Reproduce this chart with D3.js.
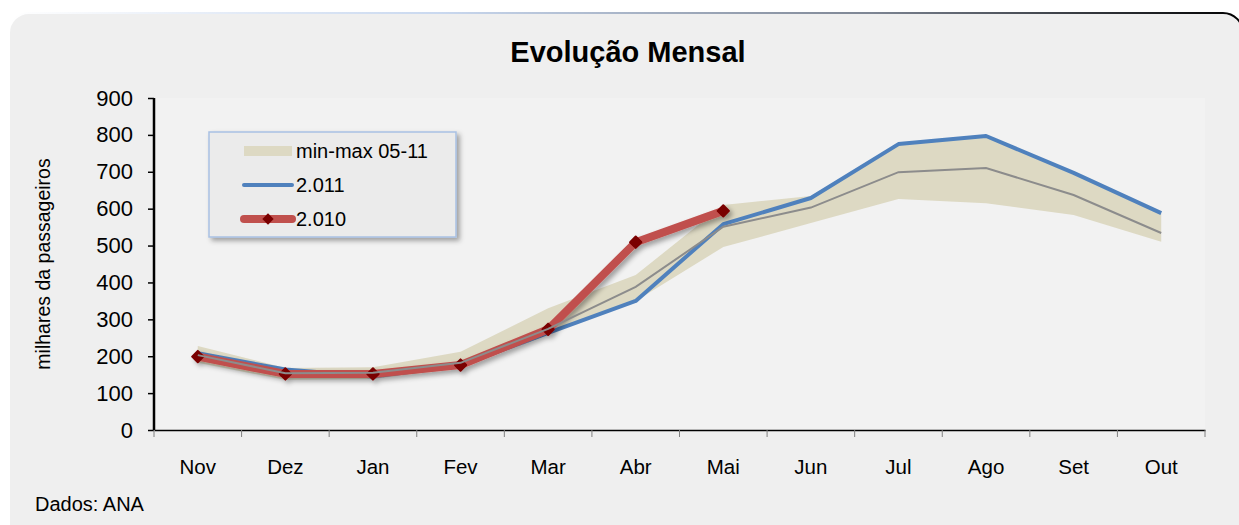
<!DOCTYPE html>
<html>
<head>
<meta charset="utf-8">
<script src="https://cdn.jsdelivr.net/npm/d3@7"></script>
<style>
  body { margin: 0; background: #fff; }
  svg { display: block; font-family: "Liberation Sans", Arial, sans-serif; }
</style>
</head>
<body>
<svg id="chart"></svg>
<script>
var WIDTH = 1239,
	HEIGHT = 525,
	MARGIN = {top: 98, bottom: 95, left: 154, right: 34};

// Data
var months = ["Nov", "Dez", "Jan", "Fev", "Mar", "Abr", "Mai", "Jun", "Jul", "Ago", "Set", "Out"];
var bandMin = [182, 136, 138, 168, 263, 350, 496, 561, 626, 615, 583, 510];
var bandMax = [228, 168, 170, 212, 330, 420, 610, 634, 775, 797, 697, 588];
var avg = [203, 154, 155, 182, 274, 388, 551, 603, 699, 710, 637, 534];
var s2011 = [208, 164, 145, 175, 263, 350, 558, 629, 775, 797, 697, 588];
var s2010 = [199, 152, 152, 176, 273, 509, 594];
var yTicks = [0, 100, 200, 300, 400, 500, 600, 700, 800, 900];
var legendItems = ["min-max 05-11", "2.011", "2.010"];

var C_BAND = "#ddd9c3", C_BLUE = "#4f81bd", C_RED = "#c0504d", C_GREY = "#8c8c8c", C_MARK = "#7a0000";

var svg = d3.select("#chart")
	.attr("width", WIDTH)
	.attr("height", HEIGHT);

var defs = svg.append("defs");

// Frame gradient: light blue on the left, black on the right
var grad = defs.append("linearGradient").attr("id", "frameGrad")
	.attr("x1", "0%").attr("x2", "100%").attr("y1", "0%").attr("y2", "0%");
grad.append("stop").attr("offset", "0%").attr("stop-color", "#ffffff");
grad.append("stop").attr("offset", "35%").attr("stop-color", "#c9d8ef");
grad.append("stop").attr("offset", "70%").attr("stop-color", "#7d8593");
grad.append("stop").attr("offset", "100%").attr("stop-color", "#000000");

var shadow = defs.append("filter").attr("id", "shadow")
	.attr("x", "-10%").attr("y", "-10%").attr("width", "130%").attr("height", "140%");
shadow.append("feDropShadow")
	.attr("dx", 3).attr("dy", 3).attr("stdDeviation", 2.5)
	.attr("flood-color", "#000").attr("flood-opacity", 0.35);

// Chart frame
svg.append("rect")
	.attr("x", 9).attr("y", 13)
	.attr("width", 1234).attr("height", 540)
	.attr("rx", 20)
	.attr("fill", "#efefef")
	.attr("stroke", "url(#frameGrad)")
	.attr("stroke-width", 2);

// Plot area
var x = d3.scaleBand()
	.domain(months)
	.range([MARGIN.left, WIDTH - MARGIN.right])
	.paddingInner(0).paddingOuter(0);

var y = d3.scaleLinear()
	.domain([0, 900])
	.range([HEIGHT - MARGIN.bottom, MARGIN.top]);

var cx = function(i) { return x(months[i]) + x.bandwidth() / 2; };

svg.append("rect")
	.attr("x", MARGIN.left).attr("y", y(900))
	.attr("width", x.range()[1] - MARGIN.left)
	.attr("height", y(0) - y(900))
	.attr("fill", "#f2f2f2");

// Title
svg.append("text")
	.attr("x", 628).attr("y", 62)
	.attr("text-anchor", "middle")
	.attr("font-size", 29).attr("font-weight", "bold")
	.text("Evolução Mensal");

//////////// Series

// min-max band
var area = d3.area()
	.x(function(d, i) { return cx(i); })
	.y0(function(d, i) { return y(bandMin[i]); })
	.y1(function(d, i) { return y(bandMax[i]); });

svg.append("path")
	.datum(months)
	.attr("d", area)
	.attr("fill", C_BAND);

var line = d3.line()
	.x(function(d, i) { return cx(i); })
	.y(function(d) { return y(d); });

// 2.011
svg.append("path")
	.datum(s2011)
	.attr("d", line)
	.attr("fill", "none")
	.attr("stroke", C_BLUE)
	.attr("stroke-width", 4)
	.attr("stroke-linejoin", "round");

// 2.010 with markers
var g2010 = svg.append("g").attr("filter", "url(#shadow)");
g2010.append("path")
	.datum(s2010)
	.attr("d", line)
	.attr("fill", "none")
	.attr("stroke", C_RED)
	.attr("stroke-width", 8)
	.attr("stroke-linejoin", "round")
	.attr("stroke-linecap", "round");

var diamond = d3.symbol().type(d3.symbolSquare).size(64);
g2010.selectAll("dummy")
	.data(s2010)
  .enter().append("path")
	.attr("d", diamond)
	.attr("transform", function(d, i) { return "translate(" + cx(i) + "," + y(d) + ") rotate(45)"; })
	.attr("fill", C_MARK)
	.attr("stroke", C_MARK).attr("stroke-width", 2).attr("stroke-linejoin", "round");

// average line
svg.append("path")
	.datum(avg)
	.attr("d", line)
	.attr("fill", "none")
	.attr("stroke", C_GREY)
	.attr("stroke-width", 2);

//////////// Axes

var yAxis = svg.append("g")
	.attr("transform", "translate(" + MARGIN.left + ",0)")
	.call(d3.axisLeft(y).tickValues(yTicks).tickSize(6).tickPadding(15));
yAxis.select(".domain").attr("stroke", "#000").attr("stroke-width", 2.5)
	.attr("d", "M0," + y(900) + "V" + y(0));
yAxis.selectAll(".tick line").attr("stroke", "#000").attr("stroke-width", 1.5);
yAxis.selectAll(".tick text").attr("font-size", 22).attr("fill", "#000")
	.attr("font-family", "Liberation Sans, Arial, sans-serif");

var xAxis = svg.append("g")
	.attr("transform", "translate(0," + y(0) + ")")
	.call(d3.axisBottom(x).tickSize(0).tickPadding(29));
xAxis.select(".domain").attr("stroke", "#000").attr("stroke-width", 1.5);
xAxis.selectAll(".tick text").attr("font-size", 20.5).attr("fill", "#000")
	.attr("font-family", "Liberation Sans, Arial, sans-serif");

// ticks at category boundaries
var bounds = months.map(function(m) { return x(m); }).concat([x.range()[1]]);
xAxis.selectAll(".bound")
	.data(bounds)
  .enter().append("line")
	.attr("x1", function(d) { return d; }).attr("x2", function(d) { return d; })
	.attr("y1", 0).attr("y2", 7)
	.attr("stroke", "#808080").attr("stroke-width", 1);

// axis title
svg.append("text")
	.attr("transform", "translate(50,264) rotate(-90)")
	.attr("text-anchor", "middle")
	.attr("font-size", 19.5)
	.text("milhares da passageiros");

// source
svg.append("text")
	.attr("x", 35).attr("y", 511)
	.attr("font-size", 20)
	.text("Dados: ANA");

//////////// Legend

var legend = svg.append("g").attr("transform", "translate(209,132)");
legend.append("rect")
	.attr("width", 247).attr("height", 105)
	.attr("fill", "#ebebeb")
	.attr("stroke", "#a9c1e3").attr("stroke-width", 1.5)
	.attr("filter", "url(#shadow)");

var item = legend.selectAll("dummy")
	.data(legendItems)
  .enter().append("g")
	.attr("transform", function(d, i) { return "translate(0," + (19 + i * 34) + ")"; });

item.append("text")
	.text(function(d) { return d; })
	.attr("x", 87).attr("y", 7)
	.attr("font-size", 20);

item.filter(function(d, i) { return i === 0; }).append("rect")
	.attr("x", 35).attr("y", -5).attr("width", 48).attr("height", 10)
	.attr("fill", C_BAND);

item.filter(function(d, i) { return i === 1; }).append("line")
	.attr("x1", 35).attr("x2", 83)
	.attr("stroke", C_BLUE).attr("stroke-width", 4).attr("stroke-linecap", "round");

var redItem = item.filter(function(d, i) { return i === 2; });
redItem.append("line")
	.attr("x1", 35).attr("x2", 83)
	.attr("stroke", C_RED).attr("stroke-width", 8).attr("stroke-linecap", "round");
redItem.append("path")
	.attr("d", diamond)
	.attr("transform", "translate(59,0) rotate(45)")
	.attr("fill", C_MARK);
</script>
</body>
</html>
